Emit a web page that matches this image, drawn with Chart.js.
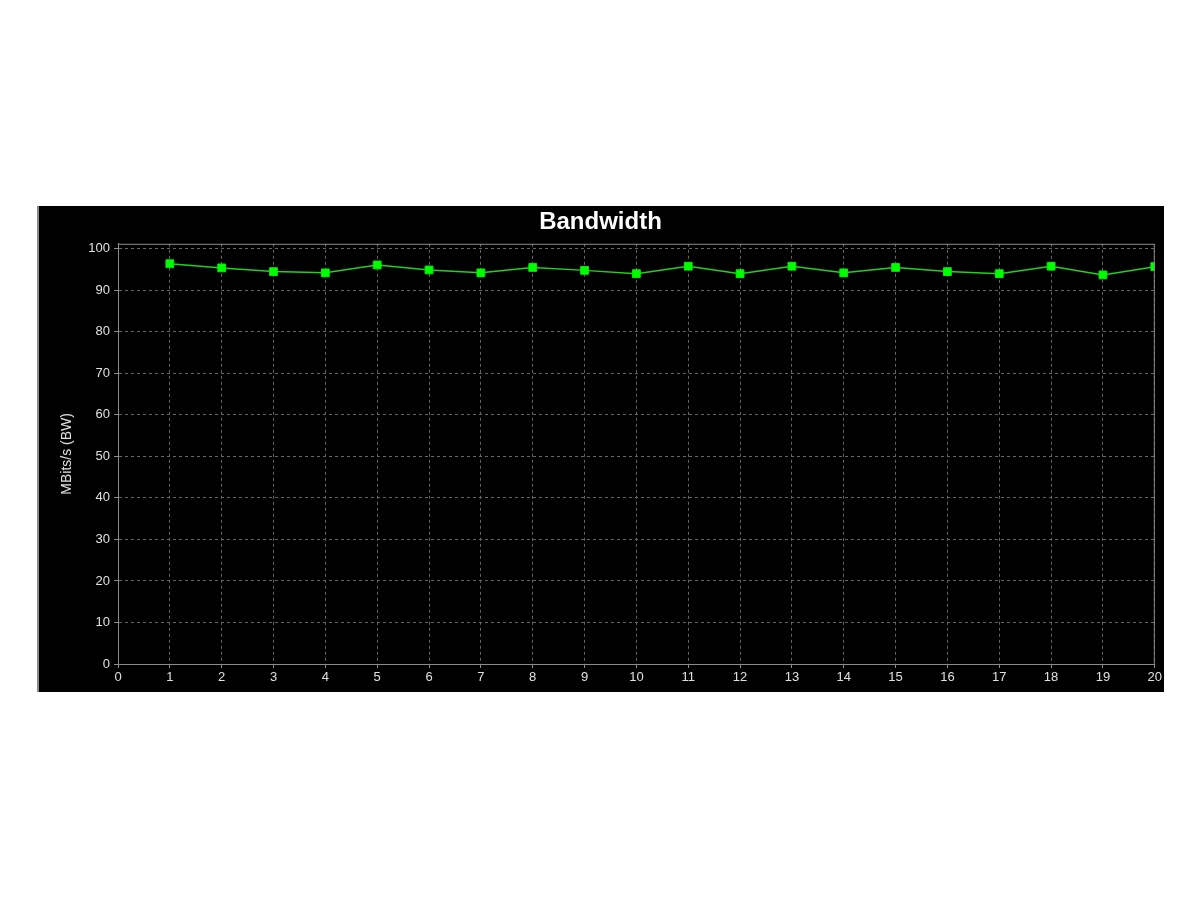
<!doctype html>
<html lang="en">
	<head>
		<title>Bandwidth</title>
		<script src="https://cdn.jsdelivr.net/npm/chart.js@4.4.0/dist/chart.umd.min.js"></script>
		<style>
			body { margin:0; background:#fff; }
			#panel { position:absolute; left:37px; top:206px; width:1127px; height:486px; background:#000; border-left:2px solid #8a8a8a; box-sizing:border-box; overflow:hidden; }
			#wrap { position:absolute; left:-2px; top:0; width:1127px; height:486px; }
		</style>
	</head>
	<body>
		<div id="panel"><div id="wrap"><canvas id="bw"></canvas></div></div>
	<script>
		// bandwidth samples, one per interval
		var intervals = [1,2,3,4,5,6,7,8,9,10,11,12,13,14,15,16,17,18,19,20];
		var bandwidth = [96.4,95.4,94.5,94.2,96.1,94.9,94.2,95.5,94.8,94.0,95.8,94.0,95.8,94.2,95.5,94.5,94.0,95.8,93.7,95.7];

		var points = [];
		for (var i = 0; i < intervals.length; i++) {
			points.push({ x: intervals[i], y: bandwidth[i] });
		}

		// frame round the plot (top and right sides)
		var frame = {
			id: 'frame',
			afterDraw: function(chart) {
				var a = chart.chartArea, c = chart.ctx;
				c.save();
				c.strokeStyle = '#8c8c8c';
				c.lineWidth = 1;
				c.beginPath();
				c.moveTo(a.left, a.top + 0.5);
				c.lineTo(a.right - 0.5, a.top + 0.5);
				c.lineTo(a.right - 0.5, a.bottom);
				c.stroke();
				c.restore();
			}
		};

		var font = 'Liberation Sans, Arial, sans-serif';
		var ctx = document.getElementById('bw').getContext('2d');
		var bwChart = new Chart(ctx, {
			type: 'line',
			data: {
				datasets: [{
					label: 'BW',
					data: points,
					borderColor: '#22d022',
					borderWidth: 1.5,
					pointStyle: 'rect',
					pointRadius: 5.5,
					pointBackgroundColor: '#00ff00',
					pointBorderColor: '#00ee00',
					pointBorderWidth: 1,
					tension: 0
				}]
			},
			options: {
				responsive: true,
				maintainAspectRatio: false,
				animation: false,
				plugins: {
					legend: { display: false },
					tooltip: { enabled: false },
					title: {
						display: true,
						text: 'Bandwidth',
						color: '#ffffff',
						font: { family: font, size: 24, weight: 'bold', lineHeight: 1.2 },
						padding: { top: 2, bottom: 7 }
					}
				},
				scales: {
					x: {
						type: 'linear',
						min: 0,
						max: 20,
						afterFit: function(s) { s.height = 28; },
						ticks: { stepSize: 1, color: '#e0e0e0', padding: 2, maxRotation: 0,
							font: { family: font, size: 13 } },
						grid: { color: '#666666', tickLength: 4, tickBorderDash: [], tickColor: '#8c8c8c' },
						border: { color: '#8c8c8c', width: 1, dash: [3, 3] }
					},
					y: {
						min: 0,
						max: 101.2,
						afterFit: function(s) { s.width = 81; },
						ticks: { stepSize: 10, includeBounds: false, color: '#e0e0e0', padding: 4,
							font: { family: font, size: 13 } },
						grid: { color: '#666666', tickLength: 4, tickBorderDash: [], tickColor: '#8c8c8c' },
						border: { color: '#8c8c8c', width: 1, dash: [3, 3] },
						title: {
							display: true,
							text: 'MBits/s (BW)',
							color: '#e0e0e0',
							font: { family: font, size: 14 },
							padding: { top: 22, bottom: 4 }
						}
					}
				}
			},
			plugins: [frame]
		});
	</script>
	</body>
</html>
